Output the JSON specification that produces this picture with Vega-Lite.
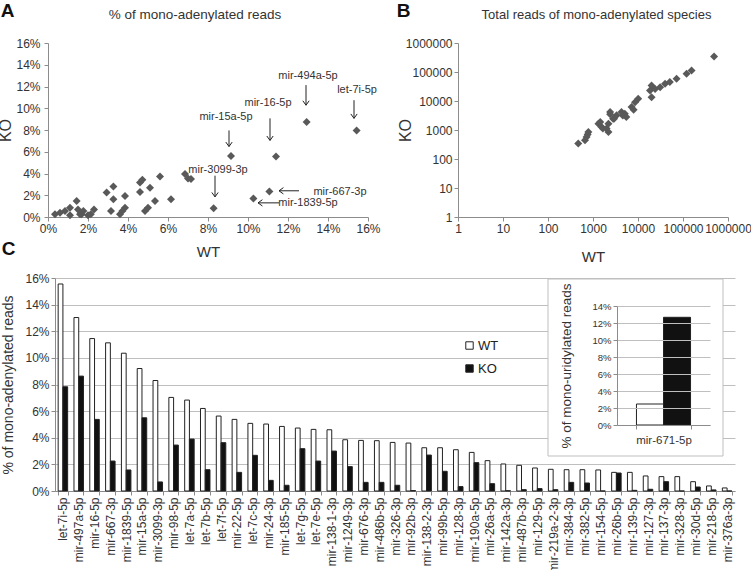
{
  "$schema": "https://vega.github.io/schema/vega-lite/v6.json",
  "width": 751,
  "height": 570,
  "autosize": {"type": "none"},
  "padding": 0,
  "background": "white",
  "config": {
    "font": "Liberation Sans",
    "view": {"stroke": null},
    "axis": {"labelFont": "Liberation Sans", "titleFont": "Liberation Sans", "labelColor": "#333333", "titleColor": "#333333", "labelFontSize": 12, "titleFontWeight": "normal", "domainColor": "#8c8c8c", "tickColor": "#8c8c8c", "tickSize": 4, "grid": false, "labelFlush": false, "labelOverlap": false, "labelBound": false},
    "legend": {"labelFont": "Liberation Sans"},
    "text": {"font": "Liberation Sans"}
  },
  "datasets": {
    "scatterA": [
      {"WT": 0.0035, "KO": 0.0025}, {"WT": 0.006, "KO": 0.004}, {"WT": 0.0085, "KO": 0.0055}, {"WT": 0.011, "KO": 0.0086},
      {"WT": 0.011, "KO": 0.0015}, {"WT": 0.0143, "KO": 0.0148}, {"WT": 0.015, "KO": 0.007}, {"WT": 0.016, "KO": 0.0025},
      {"WT": 0.0168, "KO": 0.0025}, {"WT": 0.0177, "KO": 0.0055}, {"WT": 0.02, "KO": 0.0015}, {"WT": 0.0214, "KO": 0.0025},
      {"WT": 0.023, "KO": 0.007}, {"WT": 0.0293, "KO": 0.0225}, {"WT": 0.0327, "KO": 0.028}, {"WT": 0.0327, "KO": 0.0164},
      {"WT": 0.0315, "KO": 0.0055}, {"WT": 0.0385, "KO": 0.0194}, {"WT": 0.0385, "KO": 0.0086}, {"WT": 0.036, "KO": 0.0025},
      {"WT": 0.0372, "KO": 0.0055}, {"WT": 0.046, "KO": 0.0318}, {"WT": 0.0472, "KO": 0.0343}, {"WT": 0.046, "KO": 0.023},
      {"WT": 0.051, "KO": 0.027}, {"WT": 0.0485, "KO": 0.0055}, {"WT": 0.05, "KO": 0.0086}, {"WT": 0.0535, "KO": 0.0148},
      {"WT": 0.056, "KO": 0.0373}, {"WT": 0.0615, "KO": 0.0164}, {"WT": 0.0685, "KO": 0.0395}, {"WT": 0.07, "KO": 0.0355},
      {"WT": 0.0715, "KO": 0.035}, {"WT": 0.0828, "KO": 0.008}, {"WT": 0.0915, "KO": 0.056}, {"WT": 0.1027, "KO": 0.017},
      {"WT": 0.1107, "KO": 0.0235}, {"WT": 0.114, "KO": 0.0556}, {"WT": 0.1293, "KO": 0.0873}, {"WT": 0.1543, "KO": 0.0796}
    ],
    "arrowsA": [
      {"label": "mir-15a-5p", "dir": "down", "x1": 0.0905, "y1": 0.0796, "x2": 0.0905, "y2": 0.0648, "lx": 0.089, "ly": 0.0917},
      {"label": "mir-3099-3p", "dir": "down", "x1": 0.0835, "y1": 0.038, "x2": 0.0835, "y2": 0.0185, "lx": 0.085, "ly": 0.0435},
      {"label": "mir-16-5p", "dir": "down", "x1": 0.111, "y1": 0.0907, "x2": 0.111, "y2": 0.0704, "lx": 0.11, "ly": 0.1046},
      {"label": "mir-494a-5p", "dir": "down", "x1": 0.129, "y1": 0.1213, "x2": 0.129, "y2": 0.1028, "lx": 0.13, "ly": 0.1296},
      {"label": "let-7i-5p", "dir": "down", "x1": 0.153, "y1": 0.1074, "x2": 0.153, "y2": 0.0907, "lx": 0.1545, "ly": 0.1167},
      {"label": "mir-667-3p", "dir": "left", "x1": 0.1255, "y1": 0.0241, "x2": 0.1155, "y2": 0.0241, "lx": 0.146, "ly": 0.023},
      {"label": "mir-1839-5p", "dir": "left", "x1": 0.1155, "y1": 0.013, "x2": 0.105, "y2": 0.013, "lx": 0.13, "ly": 0.013}
    ],
    "scatterB": [
      {"WT": 470, "KO": 340}, {"WT": 665, "KO": 445}, {"WT": 720, "KO": 575}, {"WT": 790, "KO": 850}, {"WT": 760, "KO": 700},
      {"WT": 1320, "KO": 1650}, {"WT": 1550, "KO": 1260}, {"WT": 1450, "KO": 1900}, {"WT": 1660, "KO": 1120}, {"WT": 2000, "KO": 1120},
      {"WT": 2200, "KO": 850}, {"WT": 2200, "KO": 1650}, {"WT": 2400, "KO": 4150}, {"WT": 2800, "KO": 2450}, {"WT": 2400, "KO": 3500},
      {"WT": 3350, "KO": 3200}, {"WT": 2930, "KO": 2450}, {"WT": 4300, "KO": 4150}, {"WT": 4600, "KO": 3150}, {"WT": 5100, "KO": 3650},
      {"WT": 5500, "KO": 2800}, {"WT": 7200, "KO": 6200}, {"WT": 8600, "KO": 9100}, {"WT": 8000, "KO": 5000}, {"WT": 10100, "KO": 12000},
      {"WT": 20000, "KO": 13500}, {"WT": 18500, "KO": 23000}, {"WT": 20000, "KO": 34500}, {"WT": 24000, "KO": 26000}, {"WT": 31000, "KO": 30000},
      {"WT": 40000, "KO": 39000}, {"WT": 51000, "KO": 45000}, {"WT": 72000, "KO": 59000}, {"WT": 120000, "KO": 87000}, {"WT": 155000, "KO": 112000},
      {"WT": 490000, "KO": 340000}
    ],
    "bars": [
      {"miRNA": "let-7i-5p", "WT": 0.1555, "KO": 0.0783},
      {"miRNA": "mir-497a-5p", "WT": 0.1303, "KO": 0.0863},
      {"miRNA": "mir-16-5p", "WT": 0.1145, "KO": 0.0538},
      {"miRNA": "mir-667-3p", "WT": 0.1113, "KO": 0.0225},
      {"miRNA": "mir-1839-5p", "WT": 0.1035, "KO": 0.0158},
      {"miRNA": "mir-15a-5p", "WT": 0.092, "KO": 0.055},
      {"miRNA": "mir-3099-3p", "WT": 0.083, "KO": 0.0068},
      {"miRNA": "mir-98-5p", "WT": 0.0703, "KO": 0.0345},
      {"miRNA": "let-7a-5p", "WT": 0.0683, "KO": 0.039},
      {"miRNA": "let-7b-5p", "WT": 0.062, "KO": 0.016},
      {"miRNA": "let-7f-5p", "WT": 0.0563, "KO": 0.0363},
      {"miRNA": "mir-22-5p", "WT": 0.0538, "KO": 0.014},
      {"miRNA": "let-7c-5p", "WT": 0.0508, "KO": 0.0268},
      {"miRNA": "mir-24-3p", "WT": 0.0503, "KO": 0.008},
      {"miRNA": "mir-185-5p", "WT": 0.0485, "KO": 0.0043},
      {"miRNA": "let-7g-5p", "WT": 0.0473, "KO": 0.0318},
      {"miRNA": "let-7e-5p", "WT": 0.0463, "KO": 0.0225},
      {"miRNA": "mir-138-1-3p", "WT": 0.046, "KO": 0.03},
      {"miRNA": "mir-1249-3p", "WT": 0.0385, "KO": 0.0183},
      {"miRNA": "mir-676-3p", "WT": 0.038, "KO": 0.0065},
      {"miRNA": "mir-486b-5p", "WT": 0.0378, "KO": 0.0065},
      {"miRNA": "mir-326-3p", "WT": 0.0365, "KO": 0.0043},
      {"miRNA": "mir-92b-3p", "WT": 0.036, "KO": 0.0003},
      {"miRNA": "mir-138-2-3p", "WT": 0.0325, "KO": 0.027},
      {"miRNA": "mir-99b-5p", "WT": 0.0325, "KO": 0.0148},
      {"miRNA": "mir-128-3p", "WT": 0.031, "KO": 0.0033},
      {"miRNA": "mir-190a-5p", "WT": 0.029, "KO": 0.0213},
      {"miRNA": "mir-26a-5p", "WT": 0.0228, "KO": 0.0055},
      {"miRNA": "mir-142a-3p", "WT": 0.0203, "KO": 0.0002},
      {"miRNA": "mir-487b-3p", "WT": 0.0193, "KO": 0.001},
      {"miRNA": "mir-129-5p", "WT": 0.0173, "KO": 0.0018},
      {"miRNA": "mir-219a-2-3p", "WT": 0.0163, "KO": 0.001},
      {"miRNA": "mir-384-3p", "WT": 0.016, "KO": 0.0065},
      {"miRNA": "mir-382-5p", "WT": 0.016, "KO": 0.006},
      {"miRNA": "mir-154-5p", "WT": 0.0158, "KO": 0.0},
      {"miRNA": "mir-26b-5p", "WT": 0.014, "KO": 0.0135},
      {"miRNA": "mir-139-5p", "WT": 0.014, "KO": 0.0005},
      {"miRNA": "mir-127-3p", "WT": 0.0113, "KO": 0.0013},
      {"miRNA": "mir-137-3p", "WT": 0.0108, "KO": 0.007},
      {"miRNA": "mir-328-3p", "WT": 0.0108, "KO": 0.0},
      {"miRNA": "mir-30d-5p", "WT": 0.007, "KO": 0.003},
      {"miRNA": "mir-218-5p", "WT": 0.0038, "KO": 0.0008},
      {"miRNA": "mir-376a-3p", "WT": 0.0023, "KO": 0.0}
    ],
    "inset": [
      {"miRNA": "mir-671-5p", "WT": 0.0247, "KO": 0.1267}
    ]
  },
  "layer": [
    {
      "layer": [
        {
          "data": {"name": "scatterA"},
          "mark": {"type": "point", "shape": "diamond", "filled": true, "size": 64, "color": "#595959", "opacity": 1},
          "encoding": {
            "x": {"field": "WT", "type": "quantitative", "scale": {"domain": [0, 0.16], "range": [48, 368], "nice": false, "zero": false},
                  "axis": {"orient": "bottom", "offset": -353, "values": [0, 0.02, 0.04, 0.06, 0.08, 0.1, 0.12, 0.14, 0.16], "format": ".0%", "title": "WT", "titleFontSize": 15, "titlePadding": 10}},
            "y": {"field": "KO", "type": "quantitative", "scale": {"domain": [0, 0.16], "range": [217, 43], "nice": false, "zero": false},
                  "axis": {"orient": "left", "offset": -48, "values": [0, 0.02, 0.04, 0.06, 0.08, 0.1, 0.12, 0.14, 0.16], "format": ".0%", "labelPadding": 4, "title": "KO", "titleFontSize": 16, "titlePadding": 2}}
          }
        },
        {
          "data": {"name": "arrowsA"},
          "mark": {"type": "rule", "color": "#222222", "strokeWidth": 1},
          "encoding": {
            "x": {"field": "x1", "type": "quantitative"}, "x2": {"field": "x2"},
            "y": {"field": "y1", "type": "quantitative"}, "y2": {"field": "y2"}
          }
        },
        {
          "data": {"name": "arrowsA"},
          "transform": [{"filter": "datum.dir == 'down'"}],
          "mark": {"type": "point", "shape": "M-1,-1.4L0,0L1,-1.4", "filled": false, "stroke": "#222222", "strokeWidth": 1, "size": 40, "opacity": 1},
          "encoding": {"x": {"field": "x2", "type": "quantitative"}, "y": {"field": "y2", "type": "quantitative"}}
        },
        {
          "data": {"name": "arrowsA"},
          "transform": [{"filter": "datum.dir == 'left'"}],
          "mark": {"type": "point", "shape": "M-1,-1.4L0,0L1,-1.4", "angle": 90, "filled": false, "stroke": "#222222", "strokeWidth": 1, "size": 40, "opacity": 1},
          "encoding": {"x": {"field": "x2", "type": "quantitative"}, "y": {"field": "y2", "type": "quantitative"}}
        },
        {
          "data": {"name": "arrowsA"},
          "mark": {"type": "text", "fontSize": 11, "color": "#333333", "align": "center", "baseline": "middle"},
          "encoding": {"x": {"field": "lx", "type": "quantitative"}, "y": {"field": "ly", "type": "quantitative"}, "text": {"field": "label"}}
        },
        {
          "data": {"values": [{}]},
          "mark": {"type": "text", "text": "% of mono-adenylated reads", "fontSize": 13.5, "color": "#333333", "align": "center", "baseline": "middle"},
          "encoding": {"x": {"datum": 0.0735}, "y": {"datum": 0.1857}}
        },
        {
          "data": {"values": [{}]},
          "mark": {"type": "text", "text": "A", "fontSize": 19, "fontWeight": "bold", "color": "#111111", "align": "center", "baseline": "middle"},
          "encoding": {"x": {"datum": -0.02025}, "y": {"datum": 0.189}}
        },
        {
          "data": {"values": [{}]},
          "mark": {"type": "text", "text": "C", "fontSize": 19, "fontWeight": "bold", "color": "#111111", "align": "center", "baseline": "middle"},
          "encoding": {"x": {"datum": -0.01975}, "y": {"datum": -0.029}}
        }
      ]
    },
    {
      "layer": [
        {
          "data": {"name": "scatterB"},
          "mark": {"type": "point", "shape": "diamond", "filled": true, "size": 64, "color": "#595959", "opacity": 1},
          "encoding": {
            "x": {"field": "WT", "type": "quantitative", "scale": {"type": "log", "domain": [1, 1000000], "range": [458, 728]},
                  "axis": {"orient": "bottom", "offset": -353, "values": [1, 10, 100, 1000, 10000, 100000, 1000000], "format": "d", "title": "WT", "titleFontSize": 15, "titlePadding": 15}},
            "y": {"field": "KO", "type": "quantitative", "scale": {"type": "log", "domain": [1, 1000000], "range": [217, 43]},
                  "axis": {"orient": "left", "offset": -458, "values": [1, 10, 100, 1000, 10000, 100000, 1000000], "format": "d", "title": "KO", "titleFontSize": 16, "titlePadding": -8}}
          }
        },
        {
          "data": {"values": [{}]},
          "mark": {"type": "text", "text": "Total reads of mono-adenylated species", "fontSize": 13, "color": "#333333", "align": "center", "baseline": "middle"},
          "encoding": {"x": {"datum": 1197}, "y": {"datum": 9250000}}
        },
        {
          "data": {"values": [{}]},
          "mark": {"type": "text", "text": "B", "fontSize": 19, "fontWeight": "bold", "color": "#111111", "align": "center", "baseline": "middle"},
          "encoding": {"x": {"datum": 0.0615}, "y": {"datum": 12700000}}
        }
      ]
    },
    {
      "data": {"name": "bars"},
      "transform": [{"fold": ["WT", "KO"], "as": ["genotype", "pct"]}],
      "mark": {"type": "bar", "stroke": "#222222", "strokeWidth": 1},
      "encoding": {
        "x": {"field": "miRNA", "type": "nominal", "sort": null,
              "scale": {"range": [55, 735], "paddingInner": 0.4, "paddingOuter": 0.2},
              "axis": {"title": null, "orient": "bottom", "offset": -79, "labelAngle": -90, "labelFontSize": 12, "labelPadding": 2, "tickBand": "extent"}},
        "xOffset": {"field": "genotype", "type": "nominal", "sort": ["WT", "KO"], "scale": {"paddingInner": 0}},
        "y": {"field": "pct", "type": "quantitative", "scale": {"domain": [0, 0.16], "range": [491, 278], "nice": false},
              "axis": {"orient": "left", "offset": -55, "values": [0, 0.02, 0.04, 0.06, 0.08, 0.1, 0.12, 0.14, 0.16], "format": ".0%", "grid": true, "gridColor": "#bfbfbf", "title": "% of  mono-adenylated reads", "titleFontSize": 14, "titlePadding": 9}},
        "fill": {"field": "genotype", "type": "nominal", "sort": ["WT", "KO"],
                 "scale": {"domain": ["WT", "KO"], "range": ["#ffffff", "#111111"]},
                 "legend": {"title": null, "orient": "none", "legendX": 463, "legendY": 339, "symbolType": "square", "symbolSize": 55, "symbolStrokeColor": "#222222", "symbolStrokeWidth": 1, "labelFontSize": 13, "labelColor": "#222222", "rowPadding": 9, "labelOffset": 2, "padding": 0}}
      }
    },
    {
      "data": {"values": [{}]},
      "mark": {"type": "rect", "fill": "#ffffff", "stroke": "#bfbfbf", "strokeWidth": 1},
      "encoding": {
        "x": {"datum": 0, "type": "quantitative", "scale": {"domain": [0, 1], "range": [548, 723]}, "axis": null},
        "x2": {"datum": 1},
        "y": {"datum": 0, "type": "quantitative", "scale": {"domain": [0, 1], "range": [279, 456]}, "axis": null},
        "y2": {"datum": 1}
      }
    },
    {
      "data": {"name": "inset"},
      "transform": [{"fold": ["WT", "KO"], "as": ["genotype", "pct"]}],
      "mark": {"type": "bar", "stroke": "#222222", "strokeWidth": 1, "zindex": 2},
      "encoding": {
        "x": {"field": "miRNA", "type": "nominal",
              "scale": {"range": [617, 710], "paddingInner": 0, "paddingOuter": 0.36},
              "axis": {"orient": "bottom", "offset": -145, "title": null, "labelAngle": 0, "labelFontSize": 11.5, "labelPadding": 5, "tickBand": "extent", "zindex": 1}},
        "xOffset": {"field": "genotype", "type": "nominal", "sort": ["WT", "KO"], "scale": {"paddingInner": 0}},
        "y": {"field": "pct", "type": "quantitative", "scale": {"domain": [0, 0.14], "range": [425, 306], "nice": false},
              "axis": {"orient": "left", "offset": -617, "values": [0, 0.02, 0.04, 0.06, 0.08, 0.1, 0.12, 0.14], "format": ".0%", "labelFontSize": 9.5, "grid": true, "gridColor": "#bfbfbf", "title": "% of mono-uridylated reads", "titleFontSize": 13.5, "titlePadding": 18, "zindex": 1}},
        "fill": {"field": "genotype", "type": "nominal", "legend": null}
      }
    }
  ],
  "resolve": {
    "scale": {"x": "independent", "y": "independent", "xOffset": "independent"},
    "axis": {"x": "independent", "y": "independent"}
  }
}
